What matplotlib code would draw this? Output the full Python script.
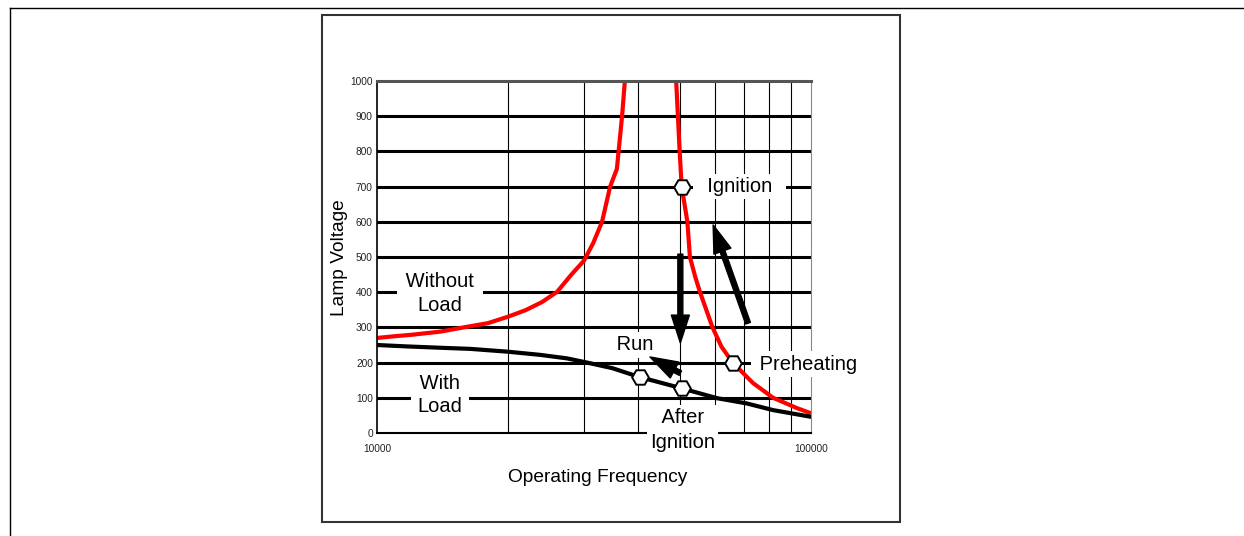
import matplotlib
matplotlib.use("Agg")
import matplotlib.pyplot as plt
from matplotlib.lines import Line2D
from matplotlib.patches import Rectangle

plt.rcParams['font.family'] = ['Liberation Sans', 'DejaVu Sans']

# red curve (without load), two branches around resonance
red_lo_f = [10000, 11000, 12000, 14000, 16000, 18000, 20000, 22000, 24000, 26000, 28000, 30000,
            31500, 33000, 34450, 35700, 36700, 37250]
red_lo_v = [270, 275, 279, 288, 301, 312, 330, 349, 372, 401, 449, 490,
            540, 600, 700, 750, 900, 1000]
red_hi_f = [48900, 49800, 50350, 51900, 52600, 54100, 55500, 59300, 62200, 66000, 73500, 81800, 92700, 100000]
red_hi_v = [1000, 804, 700, 600, 500, 444, 400, 300, 245, 200, 142, 100, 71, 56]

# black curve (with load)
blk_f = [10000, 11700, 14100, 16400, 20000, 23750, 27400, 30500, 34900, 40000, 50350, 60700, 71100, 81800, 100000]
blk_v = [250, 246, 242, 239, 231, 222, 212, 200, 184, 160, 127, 99, 84, 65, 46]

# operating points
pt_f = [50350, 66000, 40300, 50350]
pt_v = [700, 200, 160, 127]

y_ticks = list(range(0, 1001, 100))
x_grid = [20000, 30000, 40000, 50000, 60000, 70000, 80000, 90000]

fig = plt.figure(figsize=(12.44, 5.36), dpi=100)
ax = fig.add_axes([377 / 1244, 1 - 433 / 536, 434 / 1244, 352 / 536])
ax.set_xscale('log')
ax.set_xlim(10000, 100000)
ax.set_ylim(0, 1000)

# grid
for v in y_ticks[1:-1]:
    ax.axhline(v, color='black', lw=2.2, zorder=1)
for f in x_grid:
    ax.axvline(f, color='black', lw=0.8, zorder=1)

ax.plot(red_lo_f, red_lo_v, color='#ff0000', lw=3, zorder=2, solid_capstyle='butt')
ax.plot(red_hi_f, red_hi_v, color='#ff0000', lw=3, zorder=2, solid_capstyle='butt')
ax.plot(blk_f, blk_v, color='black', lw=3, zorder=2)
ax.plot(pt_f, pt_v, ls='none', marker='H', ms=12, mfc='white', mec='black', mew=1.4, zorder=6)

# arrows
ap = dict(facecolor='black', edgecolor='black', width=3.6, headwidth=13, headlength=20, shrink=0)
ax.annotate('', xy=(50000, 256), xytext=(50000, 508), arrowprops=ap, zorder=7)
ax.annotate('', xy=(59500, 591), xytext=(71600, 312), arrowprops=ap, zorder=7)
ax.annotate('', xy=(42560, 216), xytext=(50000, 170), arrowprops=ap, zorder=7)

box = dict(facecolor='white', edgecolor='none', boxstyle='square,pad=0.15')
tkw = dict(fontsize=14.5, ha='center', va='center', bbox=box, zorder=5, linespacing=1.3)
ax.text(13970, 396, ' Without \nLoad', **tkw)
ax.text(13970, 108, ' With \nLoad', **tkw)
ax.text(68500, 700, '  Ignition  ', **tkw)
ax.text(98400, 196, ' Preheating ', **tkw)
ax.text(39300, 250, ' Run ', **tkw)
ax.text(50700, 8, ' After \nIgnition', linespacing=1.38, **{k: w for k, w in tkw.items() if k != 'linespacing'})

# axes styling
ax.set_yticks(y_ticks)
ax.set_xticks([10000, 100000])
ax.set_xticklabels(['10000', '100000'])
ax.xaxis.set_minor_locator(matplotlib.ticker.NullLocator())
ax.tick_params(axis='both', length=0, labelsize=7.3, colors='#222222')
ax.tick_params(axis='y', pad=3)
ax.tick_params(axis='x', pad=8)
ax.spines['left'].set_linewidth(1.2)
ax.spines['bottom'].set_linewidth(1.5)
ax.spines['top'].set_color('#555555')
ax.spines['top'].set_linewidth(2.2)
ax.spines['right'].set_color('#888888')
ax.spines['right'].set_linewidth(0.8)

fig.text(598 / 1244, 1 - 478 / 536, 'Operating Frequency', fontsize=13.8, ha='center', va='center')
fig.text(340 / 1244, 1 - 258 / 536, 'Lamp Voltage', fontsize=13.8, ha='center', va='center', rotation=90)

# frames
fig.add_artist(Rectangle((322 / 1244, 1 - 522 / 536), 578 / 1244, 507 / 536, transform=fig.transFigure,
                         fill=False, edgecolor='#333333', lw=1.5))
fig.add_artist(Line2D([10 / 1244, 1], [1 - 8 / 536, 1 - 8 / 536], transform=fig.transFigure, color='black', lw=1))
fig.add_artist(Line2D([10 / 1244, 10 / 1244], [0, 1 - 8 / 536], transform=fig.transFigure, color='black', lw=1))

fig.savefig('out.png', dpi=100)
